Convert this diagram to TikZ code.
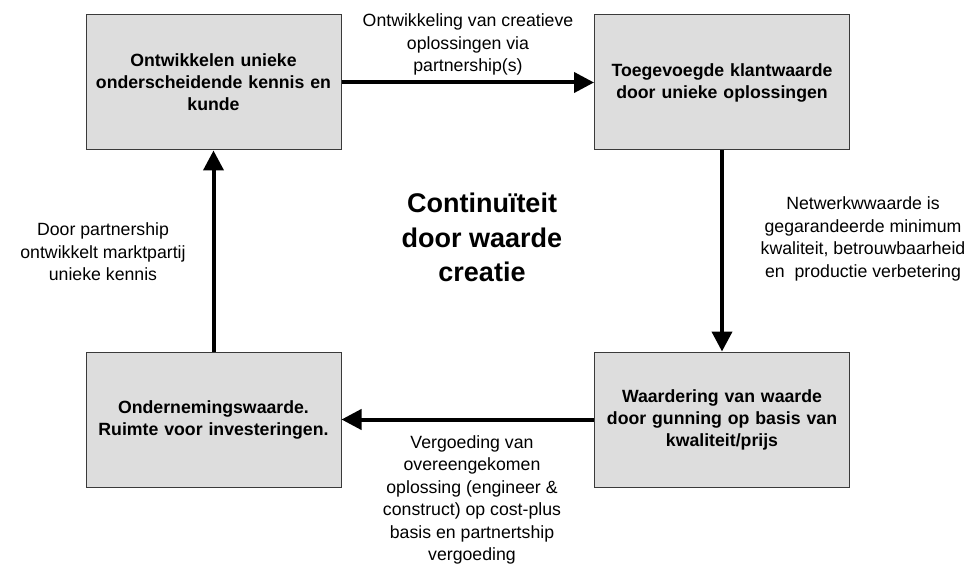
\documentclass[tikz,border=0pt]{standalone}
\usepackage{fontspec}
\setmainfont{Liberation Sans}
\usetikzlibrary{arrows.meta}
\definecolor{boxfill}{HTML}{DDDDDD}
\definecolor{boxline}{HTML}{3A3A3A}
\tikzset{
  stage/.style={draw=boxline, line width=1pt, fill=boxfill,
    minimum width=255pt, minimum height=135pt, inner sep=0pt,
    align=center, text width=245pt,
    font=\fontsize{17.7pt}{22pt}\selectfont\bfseries},
  flow/.style={line width=4pt, -{Triangle[length=20pt,width=20pt]}},
  note/.style={align=center, inner sep=0pt,
    font=\fontsize{17.7pt}{22.5pt}\selectfont},
  headline/.style={align=center, inner sep=0pt,
    font=\fontsize{27pt}{34.5pt}\selectfont\bfseries}
}
\begin{document}
\begin{tikzpicture}[x=1pt,y=-1pt]
  \useasboundingbox (0,0) rectangle (970,567);

  % the four stages of the cycle
  \node[stage] (kennis)  at (213.5,82.5)
    {Ontwikkelen unieke\\onderscheidende kennis en\\kunde};
  \node[stage] (klant)   at (722,82.5)
    {Toegevoegde klantwaarde\\door unieke oplossingen};
  \node[stage] (gunning) at (722,419.5)
    {Waardering van waarde\\door gunning op basis van\\kwaliteit/prijs};
  \node[stage] (onderneming) at (213.5,419.5)
    {Ondernemingswaarde.\\Ruimte voor investeringen.};

  % cycle arrows
  \draw[flow] (kennis.east) -- (klant.west);
  \draw[flow] (klant.south) -- (gunning.north);
  \draw[flow] (gunning.west) -- (onderneming.east);
  \draw[flow] (onderneming.north) -- (kennis.south);

  % arrow descriptions
  \node[note] (lblTop) at (468,44.5)
    {Ontwikkeling van creatieve\\oplossingen via\\partnership(s)};
  \node[note] (lblRight) at (863,239)
    {Netwerkwwaarde is\\gegarandeerde minimum\\kwaliteit, betrouwbaarheid\\en\ \ productie verbetering};
  \node[note] (lblBottom) at (472,500)
    {Vergoeding van\\overeengekomen\\oplossing (engineer \&\\construct) op cost-plus\\basis en partnertship\\vergoeding};
  \node[note] (lblLeft) at (103,252)
    {Door partnership\\ontwikkelt marktpartij\\unieke kennis};

  % centre title
  \node[headline] (title) at (482,237.5)
    {Continuïteit\\door waarde\\creatie};
\end{tikzpicture}
\end{document}
